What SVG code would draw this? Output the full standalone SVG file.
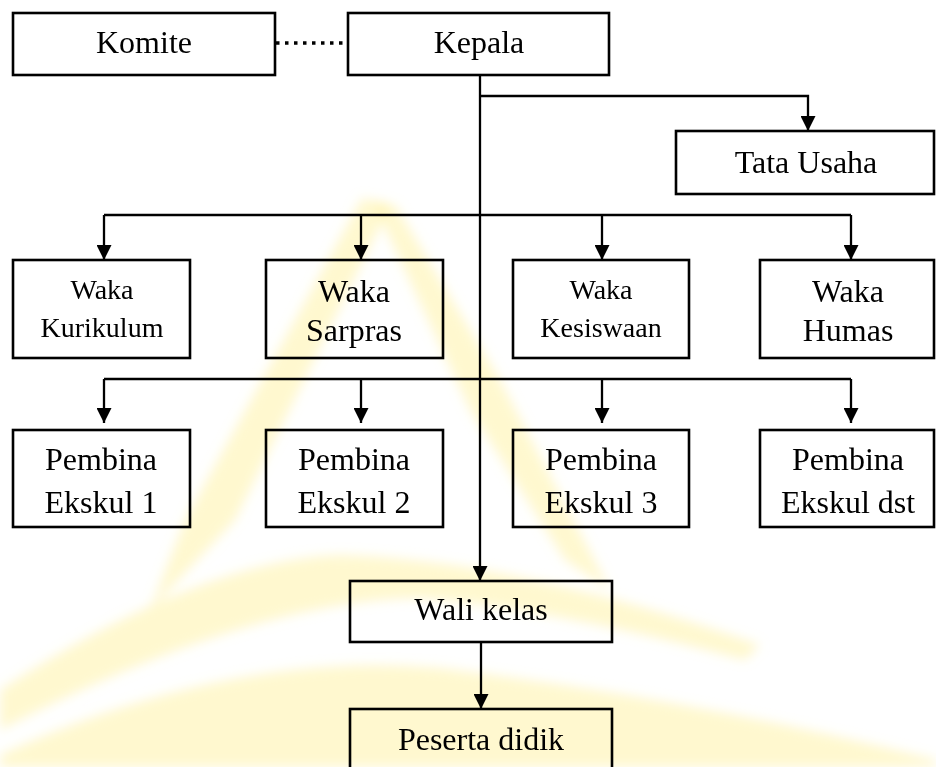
<svg xmlns="http://www.w3.org/2000/svg" width="936" height="767" viewBox="0 0 936 767">
<style>
.box{fill:none;stroke:#000;stroke-width:2.6}
.t{font-family:"Liberation Serif","Times New Roman",serif;font-size:32px;fill:#000;text-anchor:middle}
.s{font-size:28px}
.c{fill:none;stroke:#000;stroke-width:2.3}
.dot{fill:none;stroke:#000;stroke-width:3.5;stroke-dasharray:3.5 5.5}
.wm{fill:#fff2a0;opacity:0.5}
</style>
<defs>
<marker id="arr" viewBox="0 0 15 15" refX="15" refY="7.5" markerWidth="15" markerHeight="15" markerUnits="userSpaceOnUse" orient="auto">
<path d="M0,0 L15,7.5 L0,15 z" fill="#000"/>
</marker>
<filter id="soft" x="-10%" y="-10%" width="120%" height="120%"><feGaussianBlur stdDeviation="6"/></filter>
</defs>
<rect width="936" height="767" fill="#fff"/>
<g id="watermark" filter="url(#soft)">
<path class="wm" d="M362,198 L390,206 L235,520 L150,610 L185,520 Z"/>
<path class="wm" d="M372,200 L396,206 L500,380 L610,590 L565,560 L470,410 Z"/>
<path class="wm" d="M0,690 Q200,560 340,555 Q520,560 760,645 L745,660 Q560,610 420,598 Q250,600 0,730 Z"/>
<path class="wm" d="M0,767 L0,755 Q230,650 440,668 Q700,700 936,760 L936,767 Z"/>
</g>
<g id="connectors">
<path class="dot" d="M276,43 H348"/>
<path class="c" d="M480,75 V581" marker-end="url(#arr)"/>
<path class="c" d="M480,96 H808 V131" marker-end="url(#arr)"/>
<path class="c" d="M104,215 H851"/>
<path class="c" d="M104,215 V260" marker-end="url(#arr)"/>
<path class="c" d="M361,215 V260" marker-end="url(#arr)"/>
<path class="c" d="M602,215 V260" marker-end="url(#arr)"/>
<path class="c" d="M851,215 V260" marker-end="url(#arr)"/>
<path class="c" d="M104,379 H851"/>
<path class="c" d="M104,379 V423" marker-end="url(#arr)"/>
<path class="c" d="M361,379 V423" marker-end="url(#arr)"/>
<path class="c" d="M602,379 V423" marker-end="url(#arr)"/>
<path class="c" d="M851,379 V423" marker-end="url(#arr)"/>
<path class="c" d="M481,642 V709" marker-end="url(#arr)"/>
</g>
<g id="komite"><rect class="box" x="13" y="13" width="262" height="62"/><text class="t" x="144" y="53">Komite</text></g>
<g id="kepala"><rect class="box" x="348" y="13" width="261" height="62"/><text class="t" x="479" y="53">Kepala</text></g>
<g id="tata-usaha"><rect class="box" x="676" y="131" width="258" height="63"/><text class="t" x="806" y="173">Tata Usaha</text></g>
<g id="waka-kurikulum"><rect class="box" x="13" y="260" width="177" height="98"/><text class="t s" x="102" y="299">Waka</text><text class="t s" x="102" y="337">Kurikulum</text></g>
<g id="waka-sarpras"><rect class="box" x="266" y="260" width="177" height="98"/><text class="t" x="354" y="302">Waka</text><text class="t" x="354" y="341">Sarpras</text></g>
<g id="waka-kesiswaan"><rect class="box" x="513" y="260" width="176" height="98"/><text class="t s" x="601" y="299">Waka</text><text class="t s" x="601" y="337">Kesiswaan</text></g>
<g id="waka-humas"><rect class="box" x="760" y="260" width="174" height="98"/><text class="t" x="848" y="302">Waka</text><text class="t" x="848" y="341">Humas</text></g>
<g id="pembina-1"><rect class="box" x="13" y="430" width="177" height="97"/><text class="t" x="101" y="470">Pembina</text><text class="t" x="101" y="513">Ekskul 1</text></g>
<g id="pembina-2"><rect class="box" x="266" y="430" width="177" height="97"/><text class="t" x="354" y="470">Pembina</text><text class="t" x="354" y="513">Ekskul 2</text></g>
<g id="pembina-3"><rect class="box" x="513" y="430" width="176" height="97"/><text class="t" x="601" y="470">Pembina</text><text class="t" x="601" y="513">Ekskul 3</text></g>
<g id="pembina-dst"><rect class="box" x="760" y="430" width="174" height="97"/><text class="t" x="848" y="470">Pembina</text><text class="t" x="848" y="513">Ekskul dst</text></g>
<g id="wali-kelas"><rect class="box" x="350" y="581" width="262" height="61"/><text class="t" x="481" y="620">Wali kelas</text></g>
<g id="peserta-didik"><rect class="box" x="350" y="709" width="262" height="70"/><text class="t" x="481" y="750">Peserta didik</text></g>
</svg>
